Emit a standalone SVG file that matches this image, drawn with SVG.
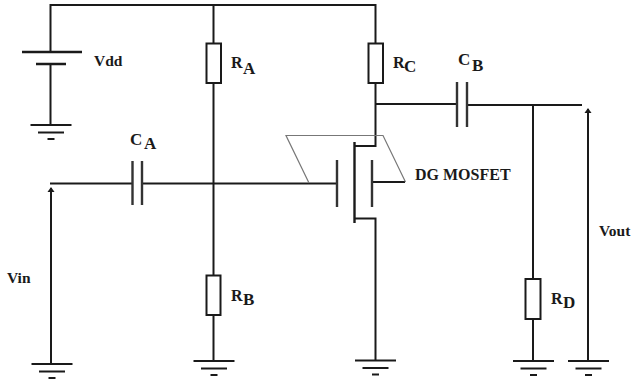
<svg xmlns="http://www.w3.org/2000/svg" width="632" height="385" viewBox="0 0 632 385">
<defs>
<style>
.w{fill:none;stroke:#1a1a1a;stroke-width:2}
.t{fill:none;stroke:#1a1a1a;stroke-width:2.4}
.p{fill:none;stroke:#333;stroke-width:2.400}
.r{fill:#fff;stroke:#1a1a1a;stroke-width:2}
.g{fill:none;stroke:#777;stroke-width:1.2}
text{font-family:"Liberation Serif","Times New Roman",serif;font-weight:bold;fill:#1a1a1a}
.l{font-size:15.500px}
.b{font-size:16px}
.s{font-size:17px}
</style>
<g id="gnd"><path class="w" d="M-20.500 0H20.500M-13 7.500H13M-3.500 14H3.500"/></g>
<marker id="ah" viewBox="0 0 8 8" refX="4" refY="1" markerWidth="8" markerHeight="8" markerUnits="userSpaceOnUse" orient="0"><path d="M4 0L7.500 5H.5Z" fill="#1a1a1a"/></marker>
</defs>
<rect width="632" height="385" fill="#fff"/>
<g id="connectors">
<path class="w" d="M50.500 52V5H375.500V43.500M50.500 64V125"/>
<path class="w" d="M213.500 5V43.500M213.500 83V275.500M213.500 315V361"/>
<path class="w" d="M50 183.500H132M142 183.500H337"/>
<path class="w" d="M51 188V364" marker-start="url(#ah)"/>
<path class="w" d="M375.500 83V146H354.500M354.500 218.500H375.500V360"/>
<path class="w" d="M375.500 104H457M467 105H582"/>
<path class="w" d="M533 105V279M533 319V361"/>
<path class="w" d="M588 109V361" marker-start="url(#ah)"/>
<path class="w" d="M372 182H405"/>
</g>
<g id="vdd"><path class="t" d="M22 52H82M36 64H66"/><text class="l" x="94" y="66">Vdd</text></g>
<g id="gnd-vdd"><use href="#gnd" x="51" y="125"/></g>
<g id="ra"><rect class="r" x="206.500" y="43.500" width="14.500" height="39.500"/><text class="b" x="231" y="68">R</text><text class="s" x="243" y="74">A</text></g>
<g id="rb"><rect class="r" x="206.500" y="275.500" width="14" height="39.500"/><text class="b" x="231" y="301">R</text><text class="s" x="243" y="305">B</text></g>
<g id="gnd-rb"><use href="#gnd" x="214" y="361"/></g>
<g id="rc"><rect class="r" x="368.500" y="43.500" width="14.500" height="39.500"/><text class="b" x="393" y="68">R</text><text class="s" x="404" y="72">C</text></g>
<g id="rd"><rect class="r" x="525.500" y="279" width="15" height="40"/><text class="b" x="551" y="304">R</text><text class="s" x="563" y="308">D</text></g>
<g id="ca"><path class="p" d="M132.500 161V205M142 161V205"/><text class="s" x="130" y="145">C</text><text class="s" x="144" y="149">A</text></g>
<g id="cb"><path class="p" d="M457 82V127M467 82V127"/><text class="s" x="458" y="65">C</text><text class="s" x="472" y="71">B</text></g>
<g id="vin"><text class="l" x="7" y="283">Vin</text></g>
<g id="gnd-vin"><use href="#gnd" x="52" y="364"/></g>
<g id="mosfet">
<path class="g" d="M309 183L286 135.500H383L405.500 182"/>
<path class="p" d="M337 160V207M372 160V207"/>
<path class="t" d="M354.500 142V223"/>
<text class="l" x="415" y="180" style="font-size:16px">DG MOSFET</text>
</g>
<g id="gnd-m"><use href="#gnd" x="375.500" y="360.500"/></g>
<g id="gnd-rd"><use href="#gnd" x="533.500" y="361"/></g>
<g id="vout"><text class="l" x="599" y="236">Vout</text></g>
<g id="gnd-vout"><use href="#gnd" x="588.500" y="361"/></g>
</svg>
